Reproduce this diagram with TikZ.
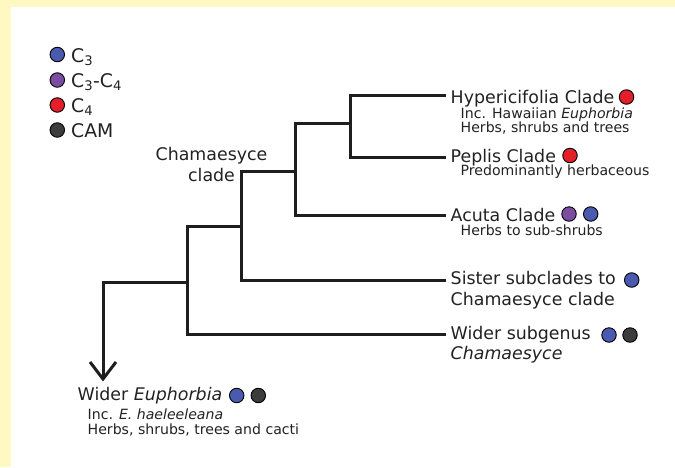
\documentclass[tikz,border=0pt]{standalone}
\usepackage{fontspec}
\setmainfont{DejaVu Sans}
\definecolor{bgyellow}{HTML}{FFF8C2}
\definecolor{txt}{HTML}{222222}
\definecolor{linec}{HTML}{1E1E1E}
\definecolor{cthree}{HTML}{4A5AAE}
\definecolor{cthreefour}{HTML}{7B4CA0}
\definecolor{cfour}{HTML}{E3202A}
\definecolor{ccam}{HTML}{3C3C3C}
\begin{document}
\begin{tikzpicture}[x=1pt,y=-1pt,
  mainlbl/.style={font=\fontsize{17.4}{20}\selectfont, anchor=base west, inner sep=0pt, text=txt},
  sublbl/.style={font=\fontsize{14.1}{15}\selectfont, anchor=base west, inner sep=0pt, text=txt},
  leglbl/.style={font=\fontsize{18.8}{22}\selectfont, anchor=base west, inner sep=0pt, text=txt},
  dot/.style={circle, draw=black, line width=0.9pt, minimum size=14.5pt, inner sep=0pt},
  branch/.style={draw=linec, line width=3pt, line join=miter}]
% background
\fill[bgyellow] (0,0) rectangle (675,467);
\fill[white] (11,7) rectangle (675,467);
\useasboundingbox (0,0) rectangle (675,467);

% legend
\node[dot, fill=cthree]     (l1) at (57.3,54.5) {};
\node[dot, fill=cthreefour] (l2) at (57.3,80) {};
\node[dot, fill=cfour]      (l3) at (57.3,105) {};
\node[dot, fill=ccam]       (l4) at (57.3,130) {};
\node[leglbl] (t1) at (71,62) {C\textsubscript{3}};
\node[leglbl] (t2) at (71,87) {C\textsubscript{3}-C\textsubscript{4}};
\node[leglbl] (t3) at (71,112) {C\textsubscript{4}};
\node[leglbl] (t4) at (71,137) {CAM};

% tree coordinates
\coordinate (we)   at (103,379);
\coordinate (n1)   at (187,282);
\coordinate (n2)   at (241,226);
\coordinate (n3)   at (295,171);
\coordinate (n4)   at (350,123);
\coordinate (hyp)  at (446,95);
\coordinate (pep)  at (446,157);
\coordinate (acu)  at (446,215);
\coordinate (sis)  at (446,280);
\coordinate (wsub) at (446,334);

\draw[branch] (we) |- (n1);
\draw[branch] (wsub) -| (n1) |- (n2);
\draw[branch] (sis) -| (n2) |- (n3);
\draw[branch] (acu) -| (n3) |- (n4);
\draw[branch] (pep) -| (n4) |- (hyp);
\draw[branch] ([xshift=-13pt,yshift=17pt]we) -- (we) -- ([xshift=13pt,yshift=17pt]we);

% Chamaesyce clade label
\node[mainlbl, anchor=base] (cc1) at (211.5,160.7) {Chamaesyce};
\node[mainlbl, anchor=base] (cc2) at (211.5,181) {clade};

% Hypericifolia
\node[mainlbl] (hypL) at (450.5,103) {Hypericifolia Clade};
\node[dot, fill=cfour] (hypD) at (626.5,97) {};
\node[sublbl] (hypS1) at (460.5,118.5) {Inc. Hawaiian \textit{Euphorbia}};
\node[sublbl] (hypS2) at (460.5,132.5) {Herbs, shrubs and trees};

% Peplis
\node[mainlbl] (pepL) at (450.5,162) {Peplis Clade};
\node[dot, fill=cfour] (pepD) at (570,155.5) {};
\node[sublbl] (pepS) at (460.5,175) {Predominantly herbaceous};

% Acuta
\node[mainlbl] (acuL) at (450.5,221) {Acuta Clade};
\node[dot, fill=cthreefour] (acuD1) at (569,214) {};
\node[dot, fill=cthree] (acuD2) at (590.7,214) {};
\node[sublbl] (acuS) at (460.5,235) {Herbs to sub-shrubs};

% Sister subclades
\node[mainlbl] (sisL1) at (450.5,284.3) {Sister subclades to};
\node[mainlbl] (sisL2) at (450.5,305) {Chamaesyce clade};
\node[dot, fill=cthree] (sisD) at (631.7,280) {};

% Wider subgenus
\node[mainlbl] (wsL1) at (450.5,339) {Wider subgenus};
\node[mainlbl] (wsL2) at (450.5,359) {\textit{Chamaesyce}};
\node[dot, fill=cthree] (wsD1) at (609,335) {};
\node[dot, fill=ccam] (wsD2) at (630,335) {};

% Wider Euphorbia
\node[mainlbl] (weL) at (77.5,400) {Wider \textit{Euphorbia}};
\node[dot, fill=cthree] (weD1) at (236.7,395.5) {};
\node[dot, fill=ccam] (weD2) at (258.3,395.5) {};
\node[sublbl] (weS1) at (87.5,419) {Inc. \textit{E. haeleeleana}};
\node[sublbl] (weS2) at (87.5,434.5) {Herbs, shrubs, trees and cacti};
\end{tikzpicture}
\end{document}
